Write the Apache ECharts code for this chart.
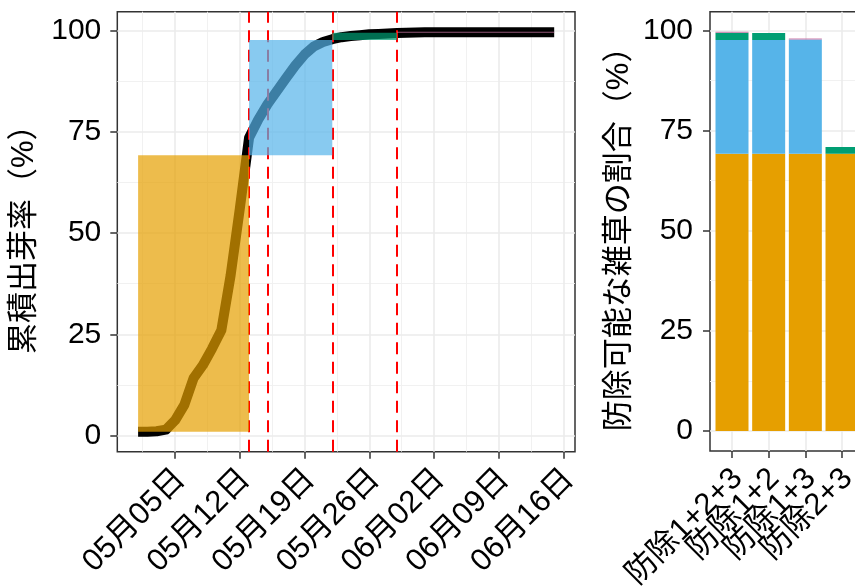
<!DOCTYPE html>
<html>
<head>
<meta charset="utf-8">
<script src="https://cdn.jsdelivr.net/npm/echarts@6/dist/echarts.min.js"></script>
<style>
  html, body { margin: 0; padding: 0; background: #ffffff; }
  #chart { width: 855px; height: 587px; }
</style>
</head>
<body>
<div id="chart"></div>
<script>
// ---- 累積出芽率（日別） ----
const emergenceDates = [
  '05-01','05-02','05-03','05-04','05-05','05-06','05-07','05-08','05-09','05-10',
  '05-11','05-12','05-13','05-14','05-15','05-16','05-17','05-18','05-19','05-20',
  '05-21','05-22','05-23','05-24','05-25','05-26','05-27','05-28','05-29','05-30',
  '05-31','06-01','06-02','06-03','06-04','06-05','06-06','06-07','06-08','06-09',
  '06-10','06-11','06-12','06-13','06-14','06-15'
];
const emergenceRate = [
  1.0, 1.0, 1.1, 1.5, 3.8, 7.6, 14.2, 17.4, 21.5, 26.0,
  39.5, 56.0, 73.5, 78.0, 81.8, 85.0, 88.2, 91.3, 94.0, 96.0,
  97.1, 97.8, 98.3, 98.6, 98.8, 99.0, 99.1, 99.2, 99.3, 99.4,
  99.45, 99.5, 99.5, 99.5, 99.5, 99.5, 99.5, 99.5, 99.5, 99.5,
  99.5, 99.5, 99.5, 99.5, 99.5, 99.5
];

// 防除日（赤破線）
const controlDates = ['05-13', '05-15', '05-22', '05-29'];

// 防除区間ごとの帯
const bandStart = ['05-01', '05-13', '05-22', '05-29'];
const bandEnd   = ['05-13', '05-22', '05-29', '06-15'];
const bandLow   = [1.0, 69.2, 97.6, 99.4];
const bandHigh  = [69.2, 97.6, 99.4, 99.65];

// 日付軸の目盛
const dateTicks = ['05-05', '05-12', '05-19', '05-26', '06-02', '06-09', '06-16'];
const dateTickLabels = ['05月05日', '05月12日', '05月19日', '05月26日', '06月02日', '06月09日', '06月16日'];
const dateMinorTicks = ['05-01', '05-08', '05-15', '05-22', '05-29', '06-05', '06-12'];

// 割合軸の目盛
const percentTicks = [0, 25, 50, 75, 100];
const percentMinorTicks = [12.5, 37.5, 62.5, 87.5];

// ---- 処理別：防除可能な雑草の割合 ----
const treatments = ['防除1+2+3', '防除1+2', '防除1+3', '防除2+3'];
const shareOrange = [69.2, 69.2, 69.2, 69.2];
const shareBlue   = [28.4, 28.4, 28.5, 0];
const shareGreen  = [1.8, 1.7, 0, 1.7];
const sharePink   = [0.25, 0, 0.25, 0];

const palette = ['#E69F00', '#56B4E9', '#009E73', '#CC79A7'];
const FONT = "'Liberation Sans', 'Noto Sans CJK JP', sans-serif";

// 5月1日からの経過日数
function dayNum(md) {
  const [m, d] = md.split('-').map(Number);
  return Math.round((Date.UTC(2024, m - 1, d) - Date.UTC(2024, 4, 1)) / 86400000);
}

const lineDays = emergenceDates.map(dayNum);
const tickDays = dateTicks.map(dayNum);
const minorDays = dateMinorTicks.map(d => dayNum(d) + 0.5);

// ggplot 風の 5% 余白
function expand(lo, hi, f) { const r = hi - lo; return [lo - r * f, hi + r * f]; }
const xAll = lineDays.concat(bandStart.map(dayNum), bandEnd.map(dayNum));
const [xMin, xMax] = expand(Math.min(...xAll), Math.max(...xAll), 0.05);
const yAll = emergenceRate.concat(bandLow, bandHigh);
const [yMin, yMax] = expand(Math.min(...yAll), Math.max(...yAll), 0.05);

const stackSeriesList = [shareOrange, shareBlue, shareGreen, sharePink];
const barRows = [];
treatments.forEach((t, i) => {
  let base = 0;
  stackSeriesList.forEach((arr, k) => {
    const v = arr[i];
    if (v > 0) barRows.push([i + 1, base, base + v, k]);
    base += v;
  });
});
const barTop = Math.max(...barRows.map(r => r[2]));
const [yMin2, yMax2] = expand(0, barTop, 0.05);
const treatmentPos = treatments.map((t, i) => i + 1);
// 回転ラベルが重なって間引かれないよう、奇数番目と偶数番目を別の軸に載せる
const treatmentPosOdd = treatmentPos.filter((p, i) => i % 2 === 0);
const treatmentPosEven = treatmentPos.filter((p, i) => i % 2 === 1);
const treatmentName = v => treatments[Math.round(v) - 1] || '';

const bandRows = bandStart.map((s, i) => [dayNum(s), dayNum(bandEnd[i]), bandLow[i], bandHigh[i], i]);

const tickStyle = { color: '#333333', width: 1.5 };
const majorGrid = { color: '#EBEBEB', width: 1.6, type: 'solid' };
const minorGrid = { color: '#EFEFEF', width: 0.9, type: 'solid' };

function gridLines(xi, yi, xMajor, xMinor, yMajor, yMinor) {
  const data = []
    .concat(xMinor.map(v => ({ xAxis: v, lineStyle: minorGrid })))
    .concat(yMinor.map(v => ({ yAxis: v, lineStyle: minorGrid })))
    .concat(xMajor.map(v => ({ xAxis: v, lineStyle: majorGrid })))
    .concat(yMajor.map(v => ({ yAxis: v, lineStyle: majorGrid })));
  return {
    type: 'line', xAxisIndex: xi, yAxisIndex: yi, data: [], silent: true, z: 1,
    markLine: {
      silent: true, symbol: 'none', z: 1, animation: false,
      label: { show: false }, emphasis: { disabled: true },
      data: data
    }
  };
}

// 45度回転ラベル（右上端を目盛の位置に合わせる）
function slantLabel(values, fmt) {
  return {
    customValues: values, formatter: fmt, interval: 0,
    rotate: 45, verticalAlign: 'top', lineHeight: 16, margin: 17,
    hideOverlap: false, showMinLabel: true, showMaxLabel: true,
    fontSize: 31, color: '#000000', fontFamily: FONT
  };
}

function valueAxisLabel(margin) {
  return { customValues: percentTicks, fontSize: 30, color: '#000000', fontFamily: FONT, margin: margin,
           interval: 0, showMinLabel: true, showMaxLabel: true, hideOverlap: false };
}

const option = {
  animation: false,
  backgroundColor: '#ffffff',
  grid: [
    { left: 117.3, top: 11.7, width: 457.7, height: 440, show: true, outerBoundsMode: 'none',
      containLabel: false, borderColor: '#333333', borderWidth: 1.5, backgroundColor: 'transparent' },
    { left: 710, top: 11.7, width: 36.67 * 4.2, height: 439.3, show: true, outerBoundsMode: 'none',
      containLabel: false, borderColor: '#333333', borderWidth: 1.5, backgroundColor: 'transparent' }
  ],
  xAxis: [
    {
      gridIndex: 0, type: 'value', min: xMin, max: xMax,
      axisLine: { show: false, onZero: false },
      axisTick: { show: true, customValues: tickDays, length: 7, lineStyle: tickStyle },
      axisLabel: slantLabel(tickDays, v => dateTickLabels[tickDays.indexOf(Math.round(v))] || ''),
      splitLine: { show: false }
    },
    {
      gridIndex: 1, type: 'value', min: 0.4, max: 4.6, position: 'bottom',
      axisLine: { show: false, onZero: false },
      axisTick: { show: true, customValues: treatmentPos, length: 7, lineStyle: tickStyle },
      axisLabel: slantLabel(treatmentPosOdd, treatmentName),
      splitLine: { show: false }
    },
    {
      gridIndex: 1, type: 'value', min: 0.4, max: 4.6, position: 'bottom', offset: 0,
      axisLine: { show: false, onZero: false },
      axisTick: { show: false },
      axisLabel: slantLabel(treatmentPosEven, treatmentName),
      splitLine: { show: false }
    }
  ],
  yAxis: [
    {
      gridIndex: 0, type: 'value', min: yMin, max: yMax,
      axisLine: { show: false, onZero: false },
      axisTick: { show: true, customValues: percentTicks, length: 7, lineStyle: tickStyle },
      axisLabel: valueAxisLabel(16),
      splitLine: { show: false },
      name: '累積出芽率（%）', nameLocation: 'middle', nameGap: 73, nameRotate: 90,
      nameTextStyle: { fontSize: 31, color: '#000000', fontFamily: FONT }
    },
    {
      gridIndex: 1, type: 'value', min: yMin2, max: yMax2,
      axisLine: { show: false, onZero: false },
      axisTick: { show: true, customValues: percentTicks, length: 7, lineStyle: tickStyle },
      axisLabel: valueAxisLabel(17),
      splitLine: { show: false },
      name: '防除可能な雑草の割合（%）', nameLocation: 'middle', nameGap: 75, nameRotate: 90,
      nameTextStyle: { fontSize: 31, color: '#000000', fontFamily: FONT }
    }
  ],
  series: [
    gridLines(0, 0, tickDays, minorDays, percentTicks, percentMinorTicks),
    gridLines(1, 1, treatmentPos, [], percentTicks, percentMinorTicks),
    {
      // 累積出芽曲線
      type: 'line', xAxisIndex: 0, yAxisIndex: 0, z: 2, silent: true,
      data: lineDays.map((d, i) => [d, emergenceRate[i]]),
      symbol: 'none', showSymbol: false, smooth: false,
      lineStyle: { color: '#000000', width: 10, cap: 'butt', join: 'round' }
    },
    {
      // 防除日
      type: 'line', xAxisIndex: 0, yAxisIndex: 0, data: [], silent: true, z: 3,
      markLine: {
        silent: true, symbol: 'none', z: 3, animation: false,
        label: { show: false }, emphasis: { disabled: true },
        lineStyle: { color: '#FF0000', width: 2, type: [12, 7.5] },
        data: controlDates.map(d => ({ xAxis: dayNum(d) }))
      }
    },
    {
      // 防除区間の帯（半透明）
      type: 'custom', xAxisIndex: 0, yAxisIndex: 0, z: 4, silent: true,
      data: bandRows,
      encode: { x: [0, 1], y: [2, 3] },
      renderItem: function (params, api) {
        const p0 = api.coord([api.value(0), api.value(2)]);
        const p1 = api.coord([api.value(1), api.value(3)]);
        return {
          type: 'rect',
          shape: { x: p0[0], y: p1[1], width: p1[0] - p0[0], height: p0[1] - p1[1] },
          style: { fill: palette[api.value(4)], opacity: 0.7 }
        };
      }
    },
    {
      // 積み上げ棒
      type: 'custom', xAxisIndex: 1, yAxisIndex: 1, z: 2, silent: true,
      data: barRows,
      encode: { x: 0, y: [1, 2] },
      renderItem: function (params, api) {
        const x = api.value(0);
        const pb = api.coord([x, api.value(1)]);
        const pt = api.coord([x, api.value(2)]);
        const w = api.size([0.9, 0])[0];
        return {
          type: 'rect',
          shape: { x: pb[0] - w / 2, y: pt[1], width: w, height: pb[1] - pt[1] },
          style: { fill: palette[api.value(3)] }
        };
      }
    }
  ]
};

const chart = echarts.init(document.getElementById('chart'), null, { renderer: 'canvas' });
chart.setOption(option);
</script>
</body>
</html>
